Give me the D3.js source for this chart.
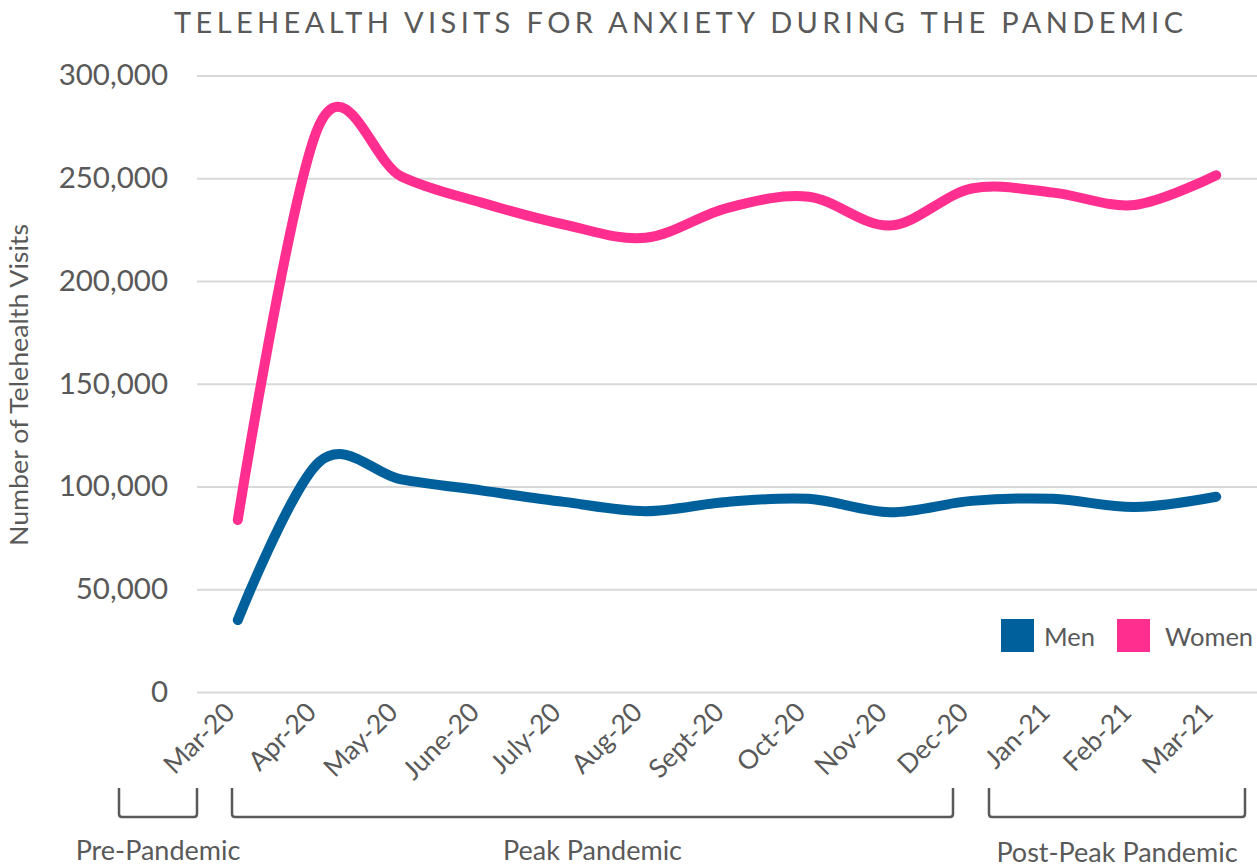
<!DOCTYPE html>
<html>
<head>
<meta charset="utf-8">
<script src="https://cdn.jsdelivr.net/npm/d3@7"></script>
<style>
  html, body { margin: 0; padding: 0; background: #fff; }
  svg { display: block; font-family: Lato, "Open Sans", sans-serif; }
</style>
</head>
<body>
<svg id="chart" width="1257" height="867"></svg>
<script>
const categories = ["Mar-20","Apr-20","May-20","June-20","July-20","Aug-20","Sept-20","Oct-20","Nov-20","Dec-20","Jan-21","Feb-21","Mar-21"];
const men   = [35000, 112000, 103500, 98000, 92500, 88000, 92500, 94000, 87500, 93000, 94000, 90000, 95000];
const women = [83700, 276000, 251000, 238000, 227500, 221000, 235500, 241000, 227000, 245000, 243000, 237000, 251500];
const yTicks = [0, 50000, 100000, 150000, 200000, 250000, 300000];
const seriesNames = ["Men", "Women"];
const seriesColors = ["#00609c", "#ff2e8f"];
const periods = [
  {label: "Pre-Pandemic", from: "Mar-20", to: "Mar-20"},
  {label: "Peak Pandemic", from: "Apr-20", to: "Dec-20"},
  {label: "Post-Peak Pandemic", from: "Jan-21", to: "Mar-21"}
];
const title = "TELEHEALTH VISITS FOR ANXIETY DURING THE PANDEMIC";
const yTitle = "Number of Telehealth Visits";

const svg = d3.select("#chart");
const textColor = "#595959";
const plot = {left: 197, right: 1257, top: 75.5, bottom: 692};

const x = d3.scalePoint().domain(categories).range([plot.left, plot.right]).padding(0.5);
const y = d3.scaleLinear().domain([0, 300000]).range([plot.bottom, plot.top]);

// Title
svg.append("text")
  .attr("x", 174).attr("y", 33)
  .attr("textLength", 1009).attr("lengthAdjust", "spacing")
  .attr("font-size", 29).attr("fill", textColor)
  .text(title);

// Gridlines + y labels
const yAxis = d3.axisLeft(y).tickValues(yTicks)
  .tickSize(-(plot.right - plot.left))
  .tickPadding(29)
  .tickFormat(d3.format(","));
const gy = svg.append("g").attr("transform", `translate(${plot.left},0)`).call(yAxis);
gy.select(".domain").remove();
gy.selectAll(".tick line").attr("stroke", "#d9d9d9").attr("stroke-width", 2);
gy.selectAll(".tick text").attr("fill", textColor).attr("font-size", 29.5)
  .attr("font-family", "Lato, 'Open Sans', sans-serif");

// Y title
svg.append("text")
  .attr("transform", "translate(28,385) rotate(-90)")
  .attr("text-anchor", "middle").attr("font-size", 25.5).attr("fill", textColor)
  .attr("textLength", 322).attr("lengthAdjust", "spacingAndGlyphs")
  .text(yTitle);

// X labels
const xAxis = d3.axisBottom(x).tickSize(0).tickPadding(0);
const gx = svg.append("g").attr("transform", `translate(0,${plot.bottom})`).call(xAxis);
gx.select(".domain").remove();
gx.selectAll(".tick text")
  .attr("font-size", 26.5).attr("fill", textColor)
  .attr("font-family", "Lato, 'Open Sans', sans-serif")
  .attr("text-anchor", "end")
  .attr("dy", 0)
  .attr("transform", "translate(-2,22) rotate(-45)");

// Lines
const line = d3.line()
  .x((d, i) => x(categories[i]))
  .y(d => y(d))
  .curve(d3.curveCardinal.tension(0));
[men, women].forEach((vals, k) => {
  svg.append("path")
    .datum(vals)
    .attr("d", line)
    .attr("fill", "none")
    .attr("stroke", seriesColors[k])
    .attr("stroke-width", 10)
    .attr("stroke-linecap", "round")
    .attr("stroke-linejoin", "round");
});

// Legend
const legendPos = [{sx: 1001, tx: 1044}, {sx: 1117, tx: 1165}];
seriesNames.forEach((name, k) => {
  svg.append("rect").attr("x", legendPos[k].sx).attr("y", 619)
    .attr("width", 33).attr("height", 33).attr("fill", seriesColors[k]);
  svg.append("text").attr("x", legendPos[k].tx).attr("y", 636)
    .attr("dominant-baseline", "central")
    .attr("font-size", 25.5).attr("fill", textColor).text(name);
});

// Period brackets
const bracketTop = 788, bracketBottom = 817;
const bracketEdges = [[119, 197], [232, 953], [989, 1245]];
periods.forEach((p, k) => {
  const x0 = bracketEdges[k][0], x1 = bracketEdges[k][1];
  const r = 3;
  svg.append("path")
    .attr("d", `M${x0},${bracketTop} L${x0},${bracketBottom - r} Q${x0},${bracketBottom} ${x0 + r},${bracketBottom} L${x1 - r},${bracketBottom} Q${x1},${bracketBottom} ${x1},${bracketBottom - r} L${x1},${bracketTop}`)
    .attr("fill", "none").attr("stroke", textColor).attr("stroke-width", 2.5);
  svg.append("text")
    .attr("x", (x0 + x1) / 2).attr("y", k === 2 ? 862 : 860)
    .attr("text-anchor", "middle").attr("font-size", 27).attr("fill", textColor)
    .text(p.label);
});
</script>
</body>
</html>
